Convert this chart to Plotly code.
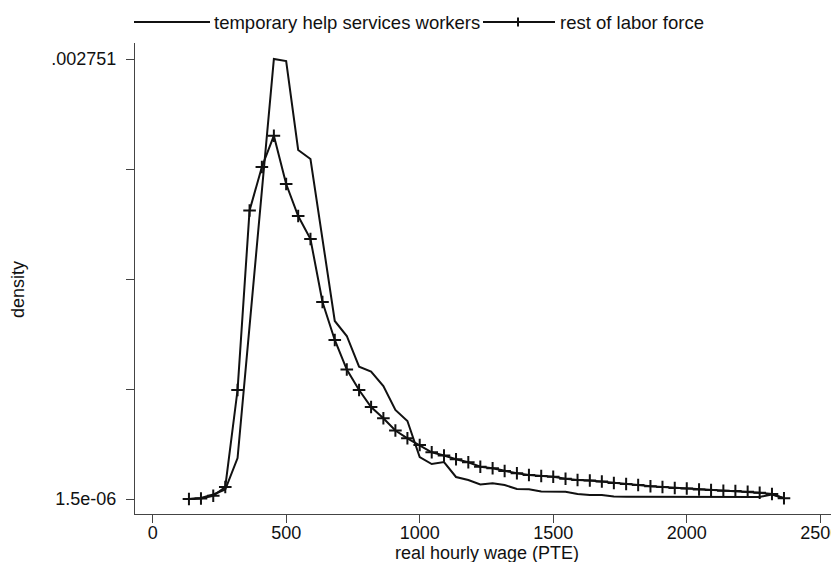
import plotly.graph_objects as go

# evaluation grid (real hourly wage, PTE)
wage = [136, 181, 227, 272, 318, 363, 409, 454, 500, 545, 591, 636, 682, 727, 773,
        818, 864, 909, 954, 1000, 1045, 1091, 1136, 1182, 1227, 1273, 1318, 1364, 1409,
        1455, 1500, 1546, 1591, 1637, 1682, 1727, 1773, 1818, 1864, 1909, 1955, 2000,
        2046, 2091, 2137, 2182, 2228, 2273, 2319, 2364]

temp_density = [0.0000015, 0.0000077, 0.0000296, 0.0000609, 0.0002577, 0.0010888,
                0.0019199, 0.002751, 0.0027385, 0.0021824, 0.0021261, 0.0016200,
                0.0011138, 0.0010201, 0.0008282, 0.0007970, 0.0007076, 0.0005577,
                0.0004889, 0.0002640, 0.0002202, 0.0002327, 0.0001390, 0.0001202,
                0.0000927, 0.0000996, 0.0000890, 0.0000640, 0.0000621, 0.0000484,
                0.0000471, 0.0000471, 0.0000327, 0.0000265, 0.0000265, 0.0000171,
                0.0000159, 0.0000159, 0.0000152, 0.0000146, 0.0000146, 0.0000140,
                0.0000140, 0.0000134, 0.0000134, 0.0000134, 0.0000134, 0.0000146,
                0.0000296, 0.0000059]

rest_density = [0.0000015, 0.0000046, 0.0000221, 0.0000765, 0.0006826, 0.0018043,
                0.0020762, 0.0022718, 0.0019699, 0.0017700, 0.0016262, 0.0012325,
                0.0009951, 0.0008107, 0.0006826, 0.0005764, 0.0005058, 0.0004296,
                0.0003808, 0.0003389, 0.0002933, 0.0002733, 0.0002496, 0.0002308,
                0.0002033, 0.0001933, 0.0001765, 0.0001621, 0.0001515, 0.0001452,
                0.0001409, 0.0001284, 0.0001202, 0.0001171, 0.0001109, 0.0001015,
                0.0000952, 0.0000890, 0.0000809, 0.0000765, 0.0000702, 0.0000671,
                0.0000609, 0.0000577, 0.0000534, 0.0000515, 0.0000471, 0.0000409,
                0.0000327, 0.0000059]

x_ticks = [0, 500, 1000, 1500, 2000, 2500]
y_ticks = [0.0000015, 0.00068888, 0.00137625, 0.00206363, 0.002751]
y_tick_labels = ["1.5e-06", "", "", "", ".002751"]

series_names = ["temporary help services workers", "rest of labor force"]
x_title = "real hourly wage (PTE)"
y_title = "density"

FONT = "Liberation Sans, Arial, sans-serif"
INK = "#111111"
OFF = 8                      # page body margin of the exported html
W, H = 839 - OFF, 562 - OFF  # figure size so that figure + body margin fills the window
# plot area in page pixels
P_LEFT, P_RIGHT, P_TOP, P_BOTTOM = 135, 839, 43, 514
L = P_LEFT - OFF
R = 839 - P_RIGHT
T = P_TOP - OFF
B = H - (P_BOTTOM - OFF)
PW, PH = W - L - R, H - T - B


def px(xp):  # page pixel x -> paper
    return (xp - P_LEFT) / PW


def py(yp):  # page pixel y -> paper
    return (P_BOTTOM - yp) / PH


fig = go.Figure()
fig.add_trace(go.Scatter(x=wage, y=temp_density, mode="lines", name=series_names[0],
                         line=dict(color=INK, width=2)))
fig.add_trace(go.Scatter(x=wage, y=rest_density, mode="lines+markers", name=series_names[1],
                         line=dict(color=INK, width=2),
                         marker=dict(symbol="cross-thin", size=9,
                                     line=dict(color=INK, width=2))))

# legend drawn in Stata style (long key lines, text to the right)
shapes = [
    dict(type="line", xref="paper", yref="paper", x0=px(134), x1=px(210), y0=py(22), y1=py(22),
         line=dict(color=INK, width=2)),
    dict(type="line", xref="paper", yref="paper", x0=px(483), x1=px(555), y0=py(22), y1=py(22),
         line=dict(color=INK, width=2)),
    dict(type="line", xref="paper", yref="paper", x0=px(518), x1=px(518), y0=py(17.5), y1=py(26.5),
         line=dict(color=INK, width=2)),
]
annotations = [
    dict(text=series_names[0], xref="paper", yref="paper", x=px(212), y=py(22),
         xanchor="left", yanchor="middle", showarrow=False,
         font=dict(family=FONT, size=18.5, color=INK)),
    dict(text=series_names[1], xref="paper", yref="paper", x=px(558), y=py(22),
         xanchor="left", yanchor="middle", showarrow=False,
         font=dict(family=FONT, size=18.5, color=INK)),
    dict(text=x_title, xref="paper", yref="paper", x=0.5, y=py(553),
         xanchor="center", yanchor="middle", showarrow=False,
         font=dict(family=FONT, size=18, color=INK)),
    dict(text=y_title, xref="paper", yref="paper", x=px(18), y=py(290),
         xanchor="center", yanchor="middle", showarrow=False, textangle=-90,
         font=dict(family=FONT, size=18, color=INK)),
]

fig.update_layout(
    width=W, height=H,
    margin=dict(l=L, r=R, t=T, b=B, autoexpand=False),
    paper_bgcolor="white", plot_bgcolor="white",
    showlegend=False,
    font=dict(family=FONT, size=18, color=INK),
    shapes=shapes, annotations=annotations,
    xaxis=dict(range=[-66, 2570], tickvals=x_ticks, ticks="outside", ticklen=8, tickwidth=1,
               tickcolor="#444444", showline=True, linecolor="#444444", linewidth=1,
               showgrid=False, zeroline=False, ticklabelstandoff=-6,
               ticklabeloverflow="allow"),
    yaxis=dict(range=[-0.0000922, 0.002851], tickvals=y_ticks, ticktext=y_tick_labels,
               ticks="outside", ticklen=8, tickwidth=1, tickcolor="#444444",
               showline=True, linecolor="#444444", linewidth=1,
               showgrid=False, zeroline=False, ticklabelstandoff=6),
)

fig.write_html("out.html")
